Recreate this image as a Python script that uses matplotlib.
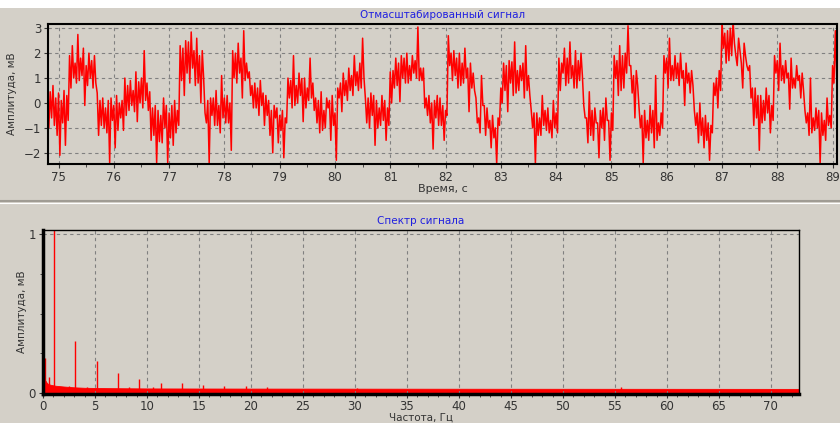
import numpy as np
import matplotlib
matplotlib.use('Agg')
import matplotlib.pyplot as plt
from matplotlib.lines import Line2D
from matplotlib.ticker import MultipleLocator

# --- scaled signal, every 0.05 s ---
# the trace swings between an upper and a lower reading in each step
T_START = 74.80
T_STEP = 0.05
UPPER = [
    0.3, 0.45, 0.7, 0.2, 0.4, 0.1, 0.5, 0.3,
    1.9, 2.3, 1.6, 2.75, 1.8, 2.2, 1.5, 2.0, 1.7, 1.9,
    0.4, 0.1, 0.2, -0.2, 0.1, 0.2, -0.1, 0.3, 0.0, 0.1,
    1.0, 0.7, 0.9, 0.5, 1.25, 0.85, 1.0, 2.1, 0.8,
    0.45, -0.2, -0.1, -0.3, -0.5, 0.2, -0.1, -0.4, -0.1, 0.1, -0.3,
    2.3, 2.2, 2.5, 2.45, 2.85, 2.1, 2.6, 1.9, 2.1,
    -0.4, 0.1, 0.2, 0.2, 0.5, -0.1, 1.1, 0.2, 0.3, 0.0,
    2.1, 2.0, 2.4, 1.8, 2.9, 1.6,
    1.25, 0.7, 0.8, 0.6, 0.9, 0.4, 0.3, 0.1, -0.3, -0.1, -0.2,
    -0.5, -0.3, -0.6,
    1.0, 0.9, 1.9, 0.7, 1.2, 0.98, 1.0, 0.6, 1.8, 0.8,
    0.2, 0.1, 0.45, -0.3, 0.2, 0.1, 0.3, -0.4,
    0.6, 0.8, 1.2, 0.9, 1.4, 1.1, 1.9, 1.25, 1.6, 2.6,
    0.2, 0.2, 0.4, 0.3, 0.1, -0.2, 0.3, 0.1, -0.2, 1.25,
    1.3, 1.8, 1.6, 1.9, 1.8, 2.0, 1.5, 1.9, 1.7, 3.05, 1.4,
    1.4, 0.2, 0.3, 0.0, 0.1, 0.3, 0.2, -0.1, -0.3,
    2.7, 2.0, 2.1, 1.8, 2.0, 1.6, 2.2, 1.4, 1.6, 1.2,
    0.2, -0.6, 1.1, -0.1, -0.2, -0.7, -0.5, -1.0, -0.6,
    0.6, 1.6, 1.5, 1.7, 1.65, 2.45, 1.3, 1.5, 1.6, 2.3, 1.1,
    -0.3, -0.4, -0.4, -0.6, 0.3, -0.3, -0.2, -0.7, 0.1, -0.4,
    1.8, 1.6, 2.2, 1.8, 2.45, 1.5, 2.1, 1.7, 2.0,
    -0.1, -0.6, 0.45, -0.3, -0.2, -0.8, -0.3, -0.2, 0.2, -0.7, -0.4,
    1.9, 1.7, 2.3, 1.9, 2.0, 3.1, 1.5, 1.1, 1.3,
    -0.2, -0.5, -0.3, -0.7, -0.1, -0.3, 1.1, -0.8, -0.4,
    1.9, 1.8, 2.6, 1.5, 1.9, 1.6, 2.0, 1.3, 1.6, 1.2, 1.3,
    -0.3, -0.4, 0.0, -0.6, -0.5, -0.8, -0.9,
    0.8, 1.0, 1.3,
    3.3, 2.8, 2.9, 3.0, 3.3, 1.9, 2.6, 1.6, 2.4, 1.5,
    1.5, 0.6, 0.6, 0.3, 0.3, 0.1, 0.6, 0.3, -0.1,
    1.9, 1.7, 2.4, 1.5, 1.7, 1.2, 1.8, 1.0, 1.5, 1.1, 1.2,
    -0.3, -0.4, 1.0, -0.6, -0.2, -0.3, -0.4, -0.7, 0.2, -0.5,
    1.5, 2.9, 1.3,
]
LOWER = [
    -1.0, -0.6, -0.9, -1.3, -2.1, -0.8, -1.7, -0.7,
    0.6, 1.0, 0.8, 0.9, 1.1, -0.1, 0.7, 1.0, 0.6, 0.8,
    -1.3, -0.9, -1.0, -1.2, -2.4, -0.7, -1.8, -1.1, -0.6, -1.1,
    -0.5, -0.3, -0.1, -0.35, -0.75, 0.0, -0.2, 0.1, -0.3,
    -1.5, -1.3, -2.4, -1.55, -1.6, -1.0, -2.4, -1.4, -1.7, -1.2, -0.9,
    0.9, 0.3, 1.2, 0.8, 1.4, 0.7, 0.8, 0.0, 1.0,
    -0.8, -2.4, -0.5, -0.9, -0.9, -1.2, -0.6, -0.8, -0.8, -1.9,
    1.0, 0.8, 1.2, 0.2, 0.9, 1.0,
    0.3, -0.2, -0.2, -0.5, -0.1, -0.9, -0.5, -1.3, -2.0, -0.6, -1.6,
    -1.1, -2.2, -0.8,
    0.2, -0.2, -0.1, 0.0, 0.3, -0.75, -0.2, 0.1, 0.2, -0.3,
    -0.8, -1.2, -1.1, -1.0, -0.2, -1.5, -0.9, -2.3,
    0.2, -0.35, 0.3, 0.1, 0.5, 0.3, 0.7, 0.5, 0.6, 1.0,
    -0.8, -1.0, -0.5, -1.7, -1.0, -0.9, -0.7, -1.5, -0.9, 0.0,
    0.6, 0.7, 0.05, 1.0, 0.8, 0.8, 0.9, 1.2, 1.0, 0.9, 0.9,
    -0.2, -0.5, -0.8, -1.85, -0.6, -0.9, -0.9, -1.5, -0.5,
    1.5, 0.9, 1.1, 0.6, 0.7, 0.8, 1.0, -0.35, 0.6, 0.5,
    -0.8, -1.2, -0.1, -1.3, -1.0, -1.8, -1.4, -2.45, -0.9,
    0.0, 0.5, -0.35, 0.8, 0.3, 0.4, 0.5, 0.9, 0.2, 0.5, 0.3,
    -1.0, -2.45, -1.3, -1.3, -0.9, -1.1, -1.2, -1.4, -1.0, -1.2,
    0.5, 1.2, 0.7, 0.8, 1.0, 0.6, 0.6, 0.9, 1.1,
    -0.6, -1.6, -1.3, -1.5, -0.8, -2.2, -1.0, -1.5, -0.7, -2.3, -1.1,
    1.0, 0.3, 0.5, 0.6, 1.2, 1.5, 0.4, -0.6, 0.7,
    -1.0, -2.4, -1.4, -1.5, -1.2, -1.8, -1.5, -1.3, -1.0,
    1.2, 0.6, 0.9, 0.9, 1.0, 0.7, 1.0, -0.1, 0.8, 0.4, 0.7,
    -0.9, -1.6, -1.3, -1.8, -1.5, -2.3, -1.2,
    0.3, -0.2, 0.5,
    2.2, 1.6, 1.7, 1.9, 2.4, 1.5, 2.1, 0.6, 1.9, 1.3,
    0.2, -0.9, -0.6, -1.9, -0.8, -0.7, -0.4, -1.2, -0.7,
    1.2, 0.5, 0.9, 0.8, 1.0, -0.25, 0.6, 0.6, 0.9, 0.2, 0.5,
    -0.8, -1.3, -1.2, -1.1, -1.0, -2.45, -1.3, -1.5, -0.9, -1.0,
    0.8, 1.0, 0.8,
]

# --- spectrum ---
FLOOR_F = [0.0, 0.1, 0.2, 0.35, 0.5, 0.8, 1.2, 2.0, 3.0, 4.0, 6.0, 10.0, 20.0, 40.0, 72.7]
FLOOR_A = [0.08, 0.09, 0.08, 0.065, 0.055, 0.05, 0.045, 0.04, 0.035, 0.032, 0.03, 0.028, 0.027, 0.026, 0.025]
PEAK_F = [0.15, 1.05, 3.1, 5.15, 7.2, 9.25, 11.3, 13.35, 15.4, 17.45, 19.5, 21.55,
          0.6, 2.5, 4.2, 8.3, 10.6, 30.2, 55.6]
PEAK_A = [0.22, 1.03, 0.33, 0.20, 0.128, 0.09, 0.06, 0.06, 0.05, 0.045, 0.045, 0.035,
          0.1, 0.045, 0.04, 0.035, 0.035, 0.032, 0.035]

BG = '#d4d0c8'
RED = '#ff0000'
BLUE = '#2020e0'
GRID = '#808080'
TXT = '#333333'

plt.rcParams['font.family'] = 'DejaVu Sans'

fig = plt.figure(figsize=(8.4, 4.23), dpi=100, facecolor=BG)

# white strip along the top and separator between panels
fig.patches.append(plt.Rectangle((0, 1 - 8 / 423), 1, 8 / 423, transform=fig.transFigure,
                                 facecolor='white', edgecolor='none'))
fig.add_artist(Line2D([0, 1], [1 - 201 / 423] * 2, color='#a09c94', lw=1.5))
fig.add_artist(Line2D([0, 1], [1 - 203 / 423] * 2, color='#ffffff', lw=0.8))


def style(ax):
    ax.set_facecolor(BG)
    ax.tick_params(axis='both', which='major', labelsize=8.5, length=3,
                   colors=TXT, pad=2)
    ax.tick_params(axis='both', which='minor', length=2, colors=TXT)
    ax.grid(True, which='major', color=GRID, linestyle=(0, (3, 3)), linewidth=0.8)


# top panel
ax1 = fig.add_axes([48 / 840, 1 - 164 / 423, 789 / 840, 140 / 423])
style(ax1)
n = min(len(UPPER), len(LOWER))
t = T_START + T_STEP * np.arange(n)
x = np.empty(2 * n)
y = np.empty(2 * n)
x[0::2], x[1::2] = t, t + T_STEP / 2
y[0::2], y[1::2] = UPPER[:n], LOWER[:n]
ax1.plot(x, y, color=RED, lw=1.1)
ax1.set_xlim(74.81, 89.08)
ax1.set_ylim(-2.45, 3.17)
ax1.xaxis.set_major_locator(MultipleLocator(1))
ax1.xaxis.set_minor_locator(MultipleLocator(0.5))
ax1.yaxis.set_major_locator(MultipleLocator(1))
for s in ax1.spines.values():
    s.set_linewidth(1.5)
ax1.set_title('Отмасштабированный сигнал', fontsize=7.5, color=BLUE, pad=4)
ax1.set_xlabel('Время, с', fontsize=8, color=TXT, labelpad=0)
ax1.set_ylabel('Амплитуда, мВ', fontsize=7.5, color=TXT, labelpad=5)

# bottom panel
ax2 = fig.add_axes([43 / 840, 1 - 393.5 / 423, 756 / 840, 163.5 / 423])
style(ax2)
ax2.fill_between(FLOOR_F, 0, FLOOR_A, color=RED, lw=0.6)
ax2.vlines(PEAK_F, 0, PEAK_A, color=RED, lw=1.0)
ax2.set_xlim(0, 72.7)
ax2.set_ylim(-0.004, 1.027)
ax2.xaxis.set_major_locator(MultipleLocator(5))
ax2.xaxis.set_minor_locator(MultipleLocator(1))
ax2.yaxis.set_major_locator(MultipleLocator(1))
ax2.yaxis.set_minor_locator(MultipleLocator(0.25))
ax2.spines['left'].set_linewidth(2.5)
ax2.spines['bottom'].set_linewidth(2.5)
ax2.spines['top'].set_linewidth(1)
ax2.spines['right'].set_linewidth(1)
ax2.set_title('Спектр сигнала', fontsize=7.5, color=BLUE, pad=4)
ax2.set_xlabel('Частота, Гц', fontsize=7.5, color=TXT, labelpad=-1)
ax2.set_ylabel('Амплитуда, мВ', fontsize=7.5, color=TXT, labelpad=1)

fig.savefig('out.png', dpi=100, facecolor=BG)
